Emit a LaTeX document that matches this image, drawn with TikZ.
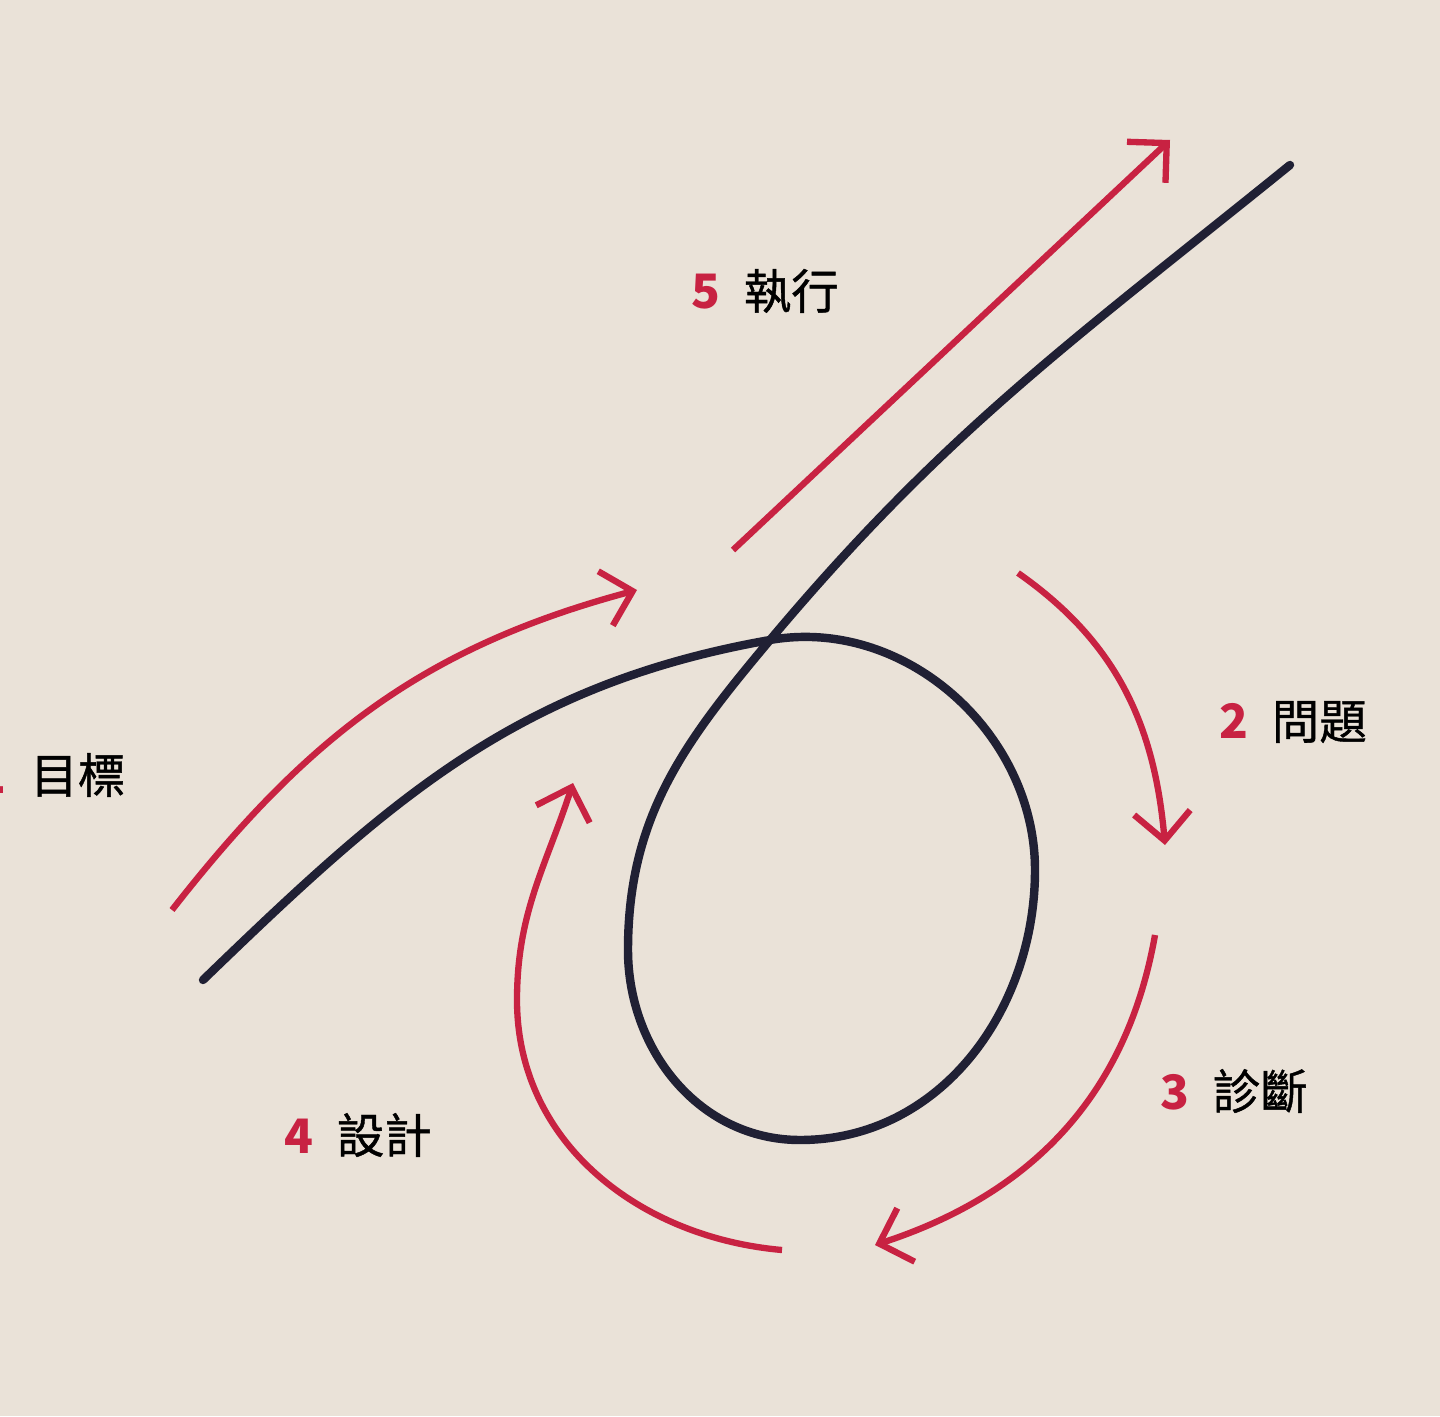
\documentclass[tikz,border=0pt]{standalone}
\usepackage{fontspec}
\usepackage{tikz}
\usetikzlibrary{arrows.meta}
\newfontfamily\cjk{Noto Sans CJK TC}
\newfontfamily\cjkmid{Noto Sans CJK TC}[FakeBold=0.9]
\definecolor{paper}{RGB}{234,226,216}
\definecolor{loopred}{RGB}{200,34,66}
\definecolor{loopink}{RGB}{32,32,52}
\newcommand{\stagelabel}[2]{{\cjk\textcolor{loopred}{\bfseries #1}\hspace{0.5em}{\cjkmid #2}}}

\begin{document}
\begin{tikzpicture}
        \fill[paper] (0,0) rectangle (14.4,14.16);
        \useasboundingbox (0,0) rectangle (14.4,14.16);
        \begin{scope}[every node/.style={inner sep=0pt, font=\fontsize{13.5}{16}\selectfont}]
                \node[anchor=east] (goal) at (1.26,6.41) {\stagelabel{1}{目標}};
                \node (problem) at (12.93,6.94) {\stagelabel{2}{問題}};
                \node (diagnosis) at (12.34,3.25) {\stagelabel{3}{診斷}};
                \node (design) at (3.58,2.81) {\stagelabel{4}{設計}};
                \node (execute) at (7.65,11.25) {\stagelabel{5}{執行}};
        \end{scope}
        % the black loop
        \coordinate (start) at (2.03,4.36);
        \coordinate (cross) at (7.70,7.76);
        \coordinate (right) at (10.35,5.46);
        \coordinate (bottom) at (8.00,2.76);
        \coordinate (left) at (6.28,4.66);
        \coordinate (finish) at (12.90,12.51);
        \draw[loopink, line width=2.4pt, line cap=round]
                (start) to[out=44, in=190] (cross)
                to[out=10, in=90] (right)
                to[out=-90, in=0] (bottom)
                to[out=180, in=-90] (left)
                to[out=90, in=230] (cross)
                to[out=50, in=219] (finish);
        % red arrows
        \coordinate (a1) at (1.72,5.06);
        \coordinate (b1) at (6.37,8.26);
        \coordinate (a2) at (10.18,8.43);
        \coordinate (b2) at (11.65,5.71);
        \coordinate (a3) at (11.55,4.81);
        \coordinate (b3) at (8.75,1.71);
        \coordinate (a4) at (7.82,1.66);
        \coordinate (m4) at (5.17,4.16);
        \coordinate (b4) at (5.73,6.33);
        \coordinate (a5) at (7.33,8.66);
        \coordinate (b5) at (11.70,12.76);
        \begin{scope}[every path/.style={loopred, line width=1.8pt, -{Straight Barb[length=8pt, width=16pt]}}]
                \draw (a1) to[out=52, in=195] (b1);
                \draw (a2) to[out=-35, in=95] (b2);
                \draw (a3) to[out=-100, in=18] (b3);
                \draw (a4) to[out=175, in=-90] (m4) to[out=90, in=-108] (b4);
                \draw (a5) -- (b5);
        \end{scope}
\end{tikzpicture}
\end{document}
